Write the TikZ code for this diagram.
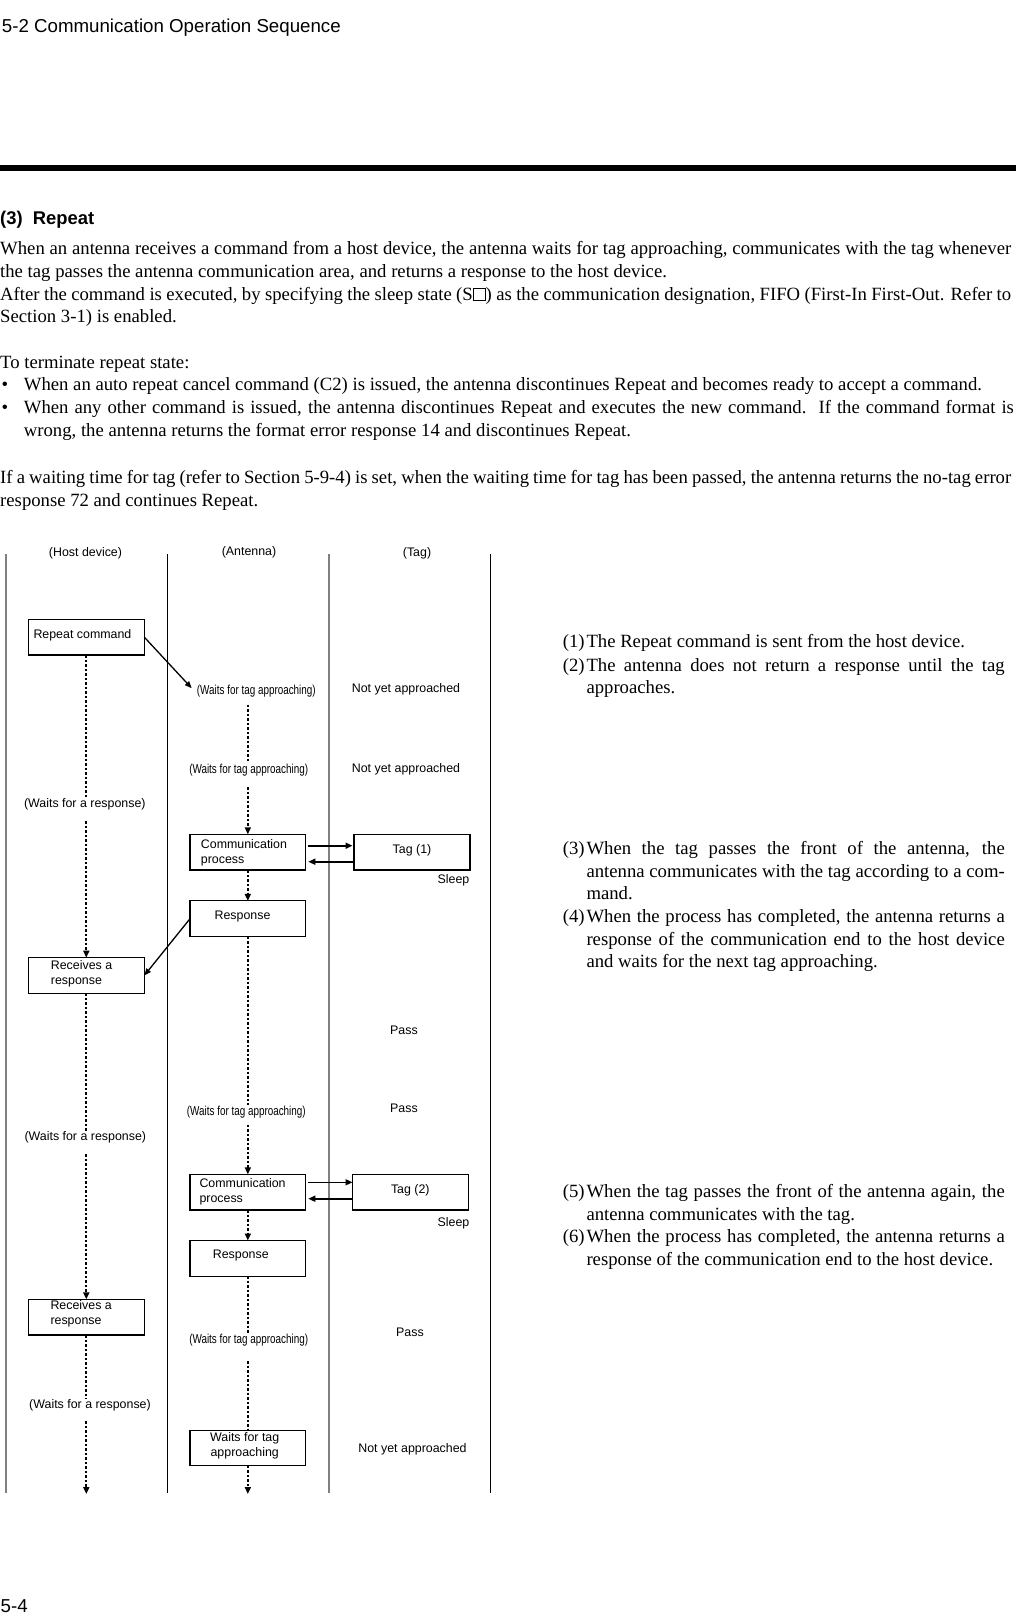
\documentclass[tikz,border=0pt]{standalone}
\usepackage{fontspec}
\setmainfont{Liberation Serif}
\newfontfamily\sfont{Liberation Sans}
\newfontfamily\nfont[FakeStretch=0.76]{Liberation Sans}
\usetikzlibrary{arrows.meta}
\definecolor{lanegray}{RGB}{128,128,128}
\newcommand\jline[2]{\makebox[#1pt][s]{#2}}
\newcommand\sqbox{{\fboxsep=0pt\fboxrule=0.8pt\fbox{\rule{0pt}{0.6em}\rule{0.6em}{0pt}}}}
\begin{document}
\begin{tikzpicture}[x=1pt,y=-1pt,
  bodytext/.style={anchor=base west, inner sep=0pt, yshift=-2pt, font=\fontsize{18.7}{22}\selectfont},
  sanstext/.style={anchor=base west, inner sep=0pt, font=\sfont\fontsize{18.7}{22}\selectfont},
  lbl/.style={inner sep=1pt, yshift=-1.5pt, font=\sfont\fontsize{12.4}{15}\selectfont},
  nlbl/.style={inner sep=1pt, yshift=-1.5pt, font=\nfont\fontsize{13}{15}\selectfont},
  thickbox/.style={draw, line width=1.6pt, minimum width=116pt, minimum height=35.7pt, inner sep=0pt, outer sep=0pt},
  thinbox/.style={draw, line width=1.1pt, minimum width=115.7pt, minimum height=35.7pt, inner sep=0pt, outer sep=0pt},
  flow/.style={line width=1.8pt, dash pattern=on 2.5pt off 2pt},
  flowarr/.style={flow, -{Triangle[length=7pt,width=6pt]}},
  sendarr/.style={line width=1.3pt, -{Triangle[length=7pt,width=5.5pt]}},
  linkarr/.style={line width=1.6pt, -{Triangle[length=7pt,width=6pt]}},
  lane/.style={line width=1.4pt},
]
\useasboundingbox (0,0) rectangle (1016,1616);

% ---------- page header ----------
\node[sanstext] (hdr) at (1.7,32.7) {5-2 Communication Operation Sequence};
\fill (0,165) rectangle (1016,171.5);
\node[sanstext, font=\sfont\bfseries\fontsize{18.4}{22}\selectfont] (sec) at (0,224) {(3)\ \ Repeat};

% ---------- body text ----------
\node[bodytext] (p1) at (0,252.8) {\jline{1011}{When an antenna receives a command from a host device, the antenna waits for tag approaching, communicates with the tag whenever}};
\node[bodytext] (p2) at (0,275.5) {the tag passes the antenna communication area, and returns a response to the host device.};
\node[bodytext] (p3) at (0,298.1) {\jline{1011}{After the command is executed, by specifying the sleep state (S\sqbox) as the communication designation, FIFO (First-In First-Out. Refer to}};
\node[bodytext] (p4) at (0,320.8) {Section 3-1) is enabled.};
\node[bodytext] (p5) at (0,366.1) {To terminate repeat state:};
\node[bodytext] (b1) at (1.5,388.8) {\textbullet};
\node[bodytext] (p6) at (23.7,388.8) {When an auto repeat cancel command (C2) is issued, the antenna discontinues Repeat and becomes ready to accept a command.};
\node[bodytext] (b2) at (1.5,411.5) {\textbullet};
\node[bodytext] (p7) at (23.7,411.5) {\jline{990}{When any other command is issued, the antenna discontinues Repeat and executes the new command.\ \ If the command format is}};
\node[bodytext] (p8) at (23.7,434.1) {wrong, the antenna returns the format error response 14 and discontinues Repeat.};
\node[bodytext] (p9) at (0,481.5) {\jline{1011}{If a waiting time for tag (refer to Section 5-9-4) is set, when the waiting time for tag has been passed, the antenna returns the no-tag error}};
\node[bodytext] (p10) at (0,504.2) {response 72 and continues Repeat.};

% ---------- lanes ----------
\draw[lane, lanegray] (6,554) -- (6,1493);
\draw[lane] (167.3,554) -- (167.3,1493);
\draw[lane, lanegray] (329,554) -- (329,1493);
\draw[lane] (490.3,554) -- (490.3,1493);

\node[lbl] (hhost) at (85.5,552) {(Host device)};
\node[lbl] (hant) at (249,550.7) {(Antenna)};
\node[lbl] (htag) at (417,552) {(Tag)};

% ---------- boxes ----------
\node[thickbox] (rc) at (86.3,637.15) {};
\node[thinbox] (cp1) at (247.85,852.15) {};
\node[thickbox] (tg1) at (412.15,852.15) {};
\node[thinbox] (rs1) at (247.85,918.7) {};
\node[thickbox] (rr1) at (86.3,975.5) {};
\node[thinbox] (cp2) at (247.85,1192.15) {};
\node[thickbox] (tg2) at (410.5,1192.15) {};
\node[thinbox] (rs2) at (247.85,1258.35) {};
\node[thickbox] (rr2) at (86.3,1317.15) {};
\node[thinbox] (wt) at (247.85,1448) {};

% ---------- box texts ----------
\node[lbl, anchor=west] (rct) at (32.3,633.7) {Repeat command};
\node[lbl, anchor=west, align=left] (cp1t) at (199.7,851.5) {Communication\\process};
\node[lbl] (tg1t) at (412,848.3) {Tag (1)};
\node[lbl] (rs1t) at (242.5,915) {Response};
\node[lbl, anchor=west, align=left] (rr1t) at (49.7,972.5) {Receives a\\response};
\node[lbl, anchor=west, align=left] (cp2t) at (198.3,1190.5) {Communication\\process};
\node[lbl] (tg2t) at (410.3,1188.3) {Tag (2)};
\node[lbl] (rs2t) at (240.8,1254.3) {Response};
\node[lbl, anchor=west, align=left] (rr2t) at (49.3,1312.5) {Receives a\\response};
\node[lbl, align=center] (wtt) at (244.7,1444.7) {Waits for tag\\approaching};

% ---------- free labels ----------
\node[nlbl] (w1) at (256.3,690) {(Waits for tag approaching)};
\node[nlbl] (w2) at (248.7,768.3) {(Waits for tag approaching)};
\node[nlbl] (w3) at (246.3,1111) {(Waits for tag approaching)};
\node[nlbl] (w4) at (248.7,1338.3) {(Waits for tag approaching)};
\node[lbl] (h1) at (84.8,802.7) {(Waits for a response)};
\node[lbl] (h2) at (85.3,1136) {(Waits for a response)};
\node[lbl] (h3) at (90,1404) {(Waits for a response)};
\node[lbl] (n1) at (406,687.7) {Not yet approached};
\node[lbl] (n2) at (406,768) {Not yet approached};
\node[lbl] (n3) at (412.5,1447.7) {Not yet approached};
\node[lbl, anchor=east] (sl1) at (470.5,879) {Sleep};
\node[lbl, anchor=east] (sl2) at (470.5,1221.7) {Sleep};
\node[lbl] (ps1) at (404,1028.3) {Pass};
\node[lbl] (ps2) at (404,1106.7) {Pass};
\node[lbl] (ps3) at (410,1331) {Pass};

\coordinate (hend) at (86.3,1494);
\coordinate (aend) at (247.85,1494);

% ---------- host flow ----------
\draw[flow] (rc.south) -- (rc.south |- h1.north);
\draw[flowarr, shorten <=10pt] (rc.south |- h1.south) -- (rr1.north);
\draw[flow] (rr1.south) -- (rr1.south |- h2.north);
\draw[flowarr, shorten <=10pt] (rr1.south |- h2.south) -- (rr2.north);
\draw[flow] (rr2.south) -- (rr2.south |- h3.north);
\draw[flowarr, shorten <=9pt] (rr2.south |- h3.south) -- (hend);

% ---------- antenna flow ----------
\draw[flow, shorten <=6pt] (cp1.north |- w1.south) -- (cp1.north |- w2.north);
\draw[flowarr, shorten <=10pt] (cp1.north |- w2.south) -- (cp1.north);
\draw[flowarr] (cp1) -- (rs1);
\draw[flow] (rs1.south) -- (rs1.south |- w3.north);
\draw[flowarr, shorten <=5pt] (cp2.north |- w3.south) -- (cp2.north);
\draw[flowarr] (cp2) -- (rs2);
\draw[flow] (rs2.south) -- (rs2.south |- w4.north);
\draw[flow, shorten <=14pt] (wt.north |- w4.south) -- (wt.north);
\draw[flowarr] (wt.south) -- (aend);

% ---------- messages ----------
\draw[sendarr] (rc.east) -- ([xshift=-4pt,yshift=3.3pt]w1.west);
\draw[sendarr] (rs1.west) -- (rr1.east);
\draw[linkarr, shorten <=2.6pt, shorten >=1.6pt] ([yshift=6.45pt]cp1.east) -- ([yshift=6.45pt]tg1.west);
\draw[linkarr, shorten >=2.6pt] ([yshift=-9.55pt]tg1.west) -- ([yshift=-9.55pt]cp1.east);
\draw[linkarr, shorten <=2.6pt] ([yshift=9.85pt]cp2.east) -- ([yshift=9.85pt]tg2.west);
\draw[linkarr, shorten >=2.6pt] ([yshift=-6.55pt]tg2.west) -- ([yshift=-6.55pt]cp2.east);

% ---------- right column ----------
\node[bodytext] (r1n) at (562.6,645.4) {(1)};
\node[bodytext] (r1a) at (586.3,645.4) {The Repeat command is sent from the host device.};
\node[bodytext] (r2n) at (562.6,669) {(2)};
\node[bodytext] (r2a) at (586.3,669) {\jline{418.3}{The antenna does not return a response until the tag}};
\node[bodytext] (r2b) at (586.3,691.7) {approaches.};

\node[bodytext] (r3n) at (562.6,852.5) {(3)};
\node[bodytext] (r3a) at (586.3,852.5) {\jline{418.3}{When the tag passes the front of the antenna, the}};
\node[bodytext] (r3b) at (586.3,875.2) {\jline{418.3}{antenna communicates with the tag according to a com-}};
\node[bodytext] (r3c) at (586.3,897.8) {mand.};
\node[bodytext] (r4n) at (562.6,920.5) {(4)};
\node[bodytext] (r4a) at (586.3,920.5) {\jline{418.3}{When the process has completed, the antenna returns a}};
\node[bodytext] (r4b) at (586.3,943.2) {\jline{418.3}{response of the communication end to the host device}};
\node[bodytext] (r4c) at (586.3,965.8) {and waits for the next tag approaching.};

\node[bodytext] (r5n) at (562.6,1195.6) {(5)};
\node[bodytext] (r5a) at (586.3,1195.6) {\jline{418.3}{When the tag passes the front of the antenna again, the}};
\node[bodytext] (r5b) at (586.3,1218.3) {antenna communicates with the tag.};
\node[bodytext] (r6n) at (562.6,1240.9) {(6)};
\node[bodytext] (r6a) at (586.3,1240.9) {\jline{418.3}{When the process has completed, the antenna returns a}};
\node[bodytext] (r6b) at (586.3,1263.6) {response of the communication end to the host device.};

% ---------- page number ----------
\node[sanstext] (pg) at (0.5,1612) {5-4};
\end{tikzpicture}
\end{document}
